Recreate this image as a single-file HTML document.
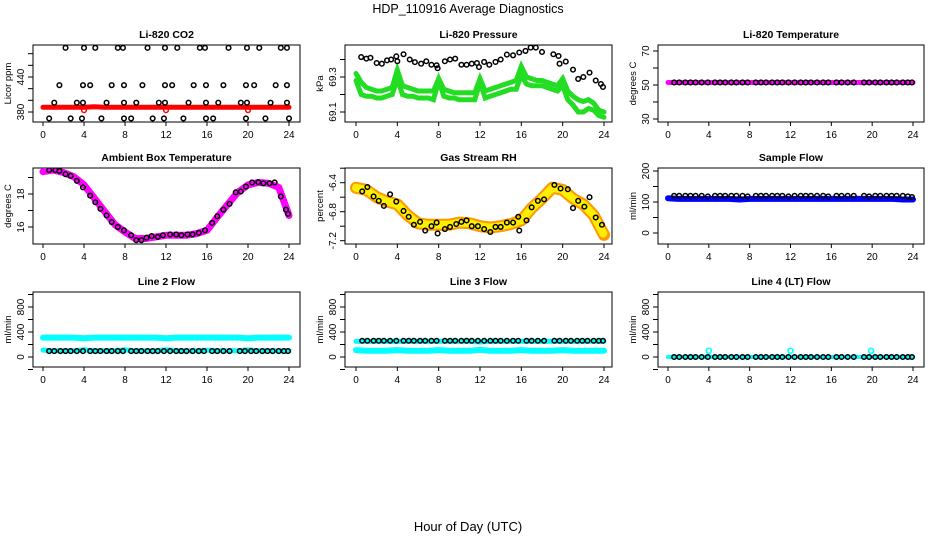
<!DOCTYPE html>
<html><head><meta charset="utf-8"><style>
html,body{margin:0;padding:0;background:#fff;}
svg{display:block;font-family:"Liberation Sans",sans-serif;}
</style></head><body>
<svg id="chart" width="936" height="540" viewBox="0 0 936 540">
<text x="468" y="13" text-anchor="middle" font-size="12.5">HDP_110916  Average Diagnostics</text>
<text x="468" y="531" text-anchor="middle" font-size="13">Hour of Day (UTC)</text>
</svg>
<script>
// ---- data ----
const xTicks = [0,4,8,12,16,20,24];
const blackHours = [0.6,1.1,1.7,2.2,2.7,3.3,3.9,4.6,5.1,5.6,6.2,6.7,7.3,7.8,8.6,9.1,9.6,10.2,10.7,11.2,11.8,12.4,13.0,13.5,14.0,14.6,15.2,15.7,16.5,17.0,17.6,18.2,19.2,19.7,20.3,20.8,21.4,21.9,22.4,23.0,23.5,23.9];
const bandHours = [0,1,2,3,4,5,6,7,8,9,10,11,12,13,14,15,16,17,18,19,20,21,22,23,24];
const halfHours = [0,0.5,1,1.5,2,2.5,3,3.5,4,4.5,5,5.5,6,6.5,7,7.5,8,8.5,9,9.5,10,10.5,11,11.5,12,12.5,13,13.5,14,14.5,15,15.5,16,16.5,17,17.5,18,18.5,19,19.5,20,20.5,21,21.5,22,22.5,23,23.5,24];

// CO2
const co2Hours = [2.2,4.0,5.1,7.3,7.8,10.2,11.9,13.1,15.3,15.8,18.1,19.9,21.1,23.2,23.8,
 1.6,3.9,4.6,6.7,7.9,9.7,11.9,12.6,14.7,15.9,17.6,19.8,20.6,22.7,23.8,
 1.1,3.3,3.9,6.2,7.9,9.1,11.3,11.9,14.2,15.9,17.1,19.3,19.9,22.2,23.8,
 0.6,2.7,3.8,5.7,7.9,8.6,10.7,11.8,13.7,15.9,16.6,19.8,21.7,24.0];
const co2Vals = [490,490,490,490,490,490,490,490,490,490,490,490,490,490,490,
 426,426,426,426,426,426,426,426,426,426,426,426,426,426,426,
 396,396,396,396,396,396,396,396,396,396,396,396,396,396,396,
 369,369,369,369,369,369,369,369,369,369,369,369,369,369];
const co2Red = [388,388,388,388,388,389,388,388,388,388,388,388,388,388,388,388,388,388,388,388,388,388,388,388,388];

// Pressure
const presHours = [0.5,1.0,1.4,2.0,2.5,3.0,3.4,3.9,4.0,4.6,5.2,5.7,6.3,6.8,7.3,7.8,7.9,8.6,9.1,9.6,10.2,10.7,11.2,11.7,11.9,12.4,12.9,13.5,14.0,14.6,15.2,15.8,16.4,16.9,17.4,18.0,19.1,19.6,19.7,20.3,21.0,21.5,22.0,22.6,23.2,23.7,23.9];
const presBlack = [69.414,69.405,69.41,69.38,69.376,69.395,69.4,69.418,69.39,69.43,69.4,69.385,69.376,69.39,69.37,69.367,69.35,69.39,69.4,69.405,69.37,69.37,69.376,69.38,69.357,69.386,69.37,69.386,69.4,69.428,69.424,69.44,69.449,69.468,69.468,69.443,69.43,69.42,69.376,69.388,69.342,69.289,69.3,69.325,69.28,69.26,69.243];
const presGreenA = [69.32,69.27,69.24,69.23,69.22,69.22,69.23,69.24,69.34,69.25,69.24,69.23,69.22,69.22,69.22,69.22,69.29,69.23,69.22,69.21,69.21,69.21,69.21,69.21,69.29,69.22,69.23,69.24,69.25,69.26,69.27,69.28,69.36,69.3,69.29,69.28,69.28,69.27,69.26,69.25,69.29,69.22,69.19,69.17,69.16,69.17,69.15,69.11,69.1];
const presGreenB = [69.28,69.2,69.19,69.19,69.18,69.18,69.19,69.2,69.29,69.2,69.19,69.19,69.18,69.18,69.18,69.17,69.28,69.19,69.18,69.18,69.17,69.17,69.17,69.17,69.27,69.18,69.19,69.2,69.21,69.22,69.23,69.23,69.31,69.26,69.25,69.25,69.25,69.24,69.23,69.22,69.25,69.17,69.14,69.1,69.1,69.12,69.11,69.08,69.07];

// Li-820 temperature
const tempBlack = [51.5,51.5,51.5,51.5,51.5,51.5,51.5,51.5,51.5,51.5,51.5,51.5,51.5,51.5,51.5,51.5,51.5,51.5,51.5,51.5,51.5,51.5,51.5,51.5,51.5,51.5,51.5,51.5,51.5,51.5,51.5,51.5,51.5,51.5,51.5,51.5,51.5,51.5,51.5,51.5,51.5,51.5];
const tempBand = [51.5,51.5,51.5,51.5,51.5,51.5,51.5,51.5,51.5,51.5,51.5,51.5,51.5,51.5,51.5,51.5,51.5,51.5,51.5,51.5,51.5,51.5,51.5,51.5,51.5];

// Ambient box temperature
const ambHours = [0.6,1.2,1.6,2.2,2.7,3.3,3.9,4.6,5.1,5.6,6.2,6.7,7.3,7.9,8.6,9.1,9.6,10.1,10.6,11.2,11.7,12.4,13.0,13.5,14.1,14.6,15.2,15.8,16.5,17.0,17.6,18.2,18.8,19.3,19.8,20.4,21.0,21.5,22.1,22.6,23.2,23.7,23.9];
const ambBlack = [19.45,19.45,19.4,19.2,19.1,18.8,18.4,17.9,17.5,17.1,16.7,16.3,16.0,15.8,15.5,15.2,15.2,15.35,15.45,15.4,15.5,15.55,15.55,15.5,15.55,15.55,15.65,15.8,16.25,16.65,17.05,17.4,18.1,18.15,18.45,18.7,18.72,18.65,18.65,18.7,17.85,17.05,16.8];
const ambBand = [19.35,19.45,19.3,19.05,18.55,17.75,16.95,16.15,15.7,15.3,15.3,15.4,15.5,15.5,15.5,15.6,15.8,16.6,17.35,18.1,18.55,18.7,18.65,18.4,16.7];

// Gas stream RH
const rhHours = [0.6,1.1,1.7,2.2,2.7,3.3,3.9,4.6,5.1,5.6,6.2,6.7,7.3,7.8,7.9,8.6,9.1,9.7,10.2,10.7,11.2,11.8,12.4,13.0,13.5,14.0,14.6,15.2,15.7,15.8,16.5,17.0,17.6,18.2,19.2,19.8,20.5,21.0,21.5,22.1,22.6,23.2,23.8];
const rhBlack = [-6.52,-6.46,-6.59,-6.65,-6.72,-6.56,-6.66,-6.79,-6.87,-6.98,-6.94,-7.06,-7.0,-6.95,-7.1,-7.04,-7.01,-6.97,-6.94,-6.92,-7.0,-7.0,-7.04,-7.08,-7.01,-7.01,-6.95,-6.95,-6.87,-7.06,-6.92,-6.74,-6.65,-6.63,-6.43,-6.48,-6.49,-6.75,-6.65,-6.73,-6.6,-6.88,-6.98];
const rhBand = [-6.47,-6.5,-6.6,-6.66,-6.7,-6.85,-6.96,-6.98,-6.98,-6.98,-6.95,-6.96,-7.0,-7.02,-7.0,-6.97,-6.92,-6.75,-6.62,-6.47,-6.5,-6.62,-6.7,-6.85,-7.12];

// Flows
const sampleBlack = [120,120,120,120,120,120,118,120,120,120,120,120,120,118,120,120,120,120,120,120,118,120,120,120,120,120,120,118,120,120,120,120,120,118,120,120,120,120,120,120,118,116];
const sampleBand = [112,110,110,110,110,110,110,108,110,110,110,110,110,110,110,110,110,110,110,110,110,110,110,108,108];
const line2Black = [95,95,95,95,95,95,95,95,95,95,95,95,95,95,95,95,95,95,95,95,95,95,95,95,95,95,95,95,95,95,95,95,95,95,95,95,95,95,95,95,95,95];
const line2Upper = [310,310,310,310,300,310,310,310,310,310,310,310,300,310,310,310,310,310,310,310,300,310,310,310,310];
const line2Lower = [110,100,100,100,115,100,100,100,115,100,100,100,115,100,100,100,110,100,100,100,115,100,100,100,100];
const line3Black = [260,260,260,260,260,260,260,260,260,260,260,260,260,260,260,260,260,260,260,260,260,260,260,260,260,260,260,260,260,260,260,260,260,260,260,260,260,260,260,260,260,260];
const line3Upper = [250,250,250,250,250,250,250,250,250,250,250,250,240,250,250,250,250,250,250,250,250,250,250,250,250];
const line3Lower = [110,100,100,100,110,100,100,100,110,100,100,100,115,100,100,100,110,100,100,100,110,100,100,100,100];
const line4Black = [0,0,0,0,0,0,0,0,0,0,0,0,0,0,0,0,0,0,0,0,0,0,0,0,0,0,0,0,0,0,0,0,0,0,0,0,0,0,0,0,0,0];
const line4Band = [0,0,0,0,0,0,0,0,0,0,0,0,0,0,0,0,0,0,0,0,0,0,0,0,0];
const line4SpikeHours = [4.0,12.0,19.9];
const line4Spikes = [100,100,100];

// ---- layout ----
const NS = "http://www.w3.org/2000/svg";
const svg = document.getElementById('chart');
const cols = [{l:33,r:300,x0:43,x1:289},{l:345,r:612,x0:356,x1:604},{l:658,r:924,x0:668,x1:913}];
const rows = [{t:45,b:122},{t:168,b:244},{t:292,b:367}];

function el(tag, attrs, parent){
  const e = document.createElementNS(NS, tag);
  for (const k in attrs) e.setAttribute(k, attrs[k]);
  (parent||svg).appendChild(e);
  return e;
}

function makePanel(ci, ri, title, ylabel, ya, yb, yticks, ylabels, name){
  const c = cols[ci], r = rows[ri];
  const g = el('g', {});
  
  
  const xs = h => c.x0 + (h/24)*(c.x1-c.x0);
  const ys = v => ya.p + (v-ya.v)*(yb.p-ya.p)/(yb.v-ya.v);
  const t = el('text', {x:(c.l+c.r)/2, y:r.t-7, 'text-anchor':'middle', 'font-size':'10.5', 'font-weight':'bold'}, g);
  t.textContent = title;
  
  
  const frame = el('rect', {x:c.l, y:r.t, width:c.r-c.l, height:r.b-r.t, fill:'none', stroke:'#000', 'stroke-width':'1'}, g);
  
  
  const xa = el('g', {}, g);
  
  
  el('line', {x1:xs(0), x2:xs(24), y1:r.b, y2:r.b, stroke:'#000'}, xa);
  xTicks.forEach(v=>{
    el('line', {x1:xs(v), x2:xs(v), y1:r.b, y2:r.b+4, stroke:'#000'}, xa);
    const tl = el('text', {x:xs(v), y:r.b+16, 'text-anchor':'middle', 'font-size':'10'}, xa);
    tl.textContent = v;
    
    
  });
  const yax = el('g', {}, g);
  
  
  yticks.forEach(v=>{
    el('line', {x1:c.l-5, x2:c.l, y1:ys(v), y2:ys(v), stroke:'#000'}, yax);
  });
  ylabels.forEach(v=>{
    const yl = el('text', {x:c.l-9, y:ys(v), 'text-anchor':'middle', 'font-size':'10', transform:`rotate(-90 ${c.l-9} ${ys(v)})`}, yax);
    yl.textContent = v;
    
    
  });
  const lab = el('text', {x:c.l-22, y:(r.t+r.b)/2, 'text-anchor':'middle', 'font-size':'9.5', transform:`rotate(-90 ${c.l-22} ${(r.t+r.b)/2})`}, g);
  lab.textContent = ylabel;
  
  
  const clip = 'clip' + ci + ri;
  const cp = el('clipPath', {id:clip}, g);
  el('rect', {x:c.l, y:r.t, width:c.r-c.l, height:r.b-r.t}, cp);
  const plot = el('g', {'clip-path':`url(#${clip})`}, g);
  return {xs, ys, plot, name};
}

function band(p, hours, vals, color, width, nm){
  const pts = hours.map((h,i)=>p.xs(h).toFixed(1)+','+p.ys(vals[i]).toFixed(1)).join(' ');
  const pl = el('polyline', {points:pts, fill:'none', stroke:color, 'stroke-width':width, 'stroke-linejoin':'round', 'stroke-linecap':'round'}, p.plot);
  
  
  return pl;
}
function dots(p, hours, vals, color, rad, sw, nm){
  const g = el('g', {}, p.plot);
  
  
  hours.forEach((h,i)=>{
    const c = el('circle', {cx:p.xs(h), cy:p.ys(vals[i]), r:rad, fill:'none', stroke:color, 'stroke-width':sw}, g);
    
    
  });
}

let p = makePanel(0,0,'Li-820 CO2','Licor ppm',{v:380,p:112},{v:440,p:77},[380,400,420,440,460,480],[380,440],'co2');
band(p, bandHours, co2Red, '#ff0000', 5, 'co2-red-series');
dots(p, [4,12,20], [383,383,383], '#ff0000', 2.3, 1.5, 'co2-red-outliers');
dots(p, co2Hours, co2Vals, '#000', 2.3, 1.5, 'co2-black-series');

p = makePanel(1,0,'Li-820 Pressure','kPa',{v:69.3,p:77},{v:69.1,p:112},[69.1,69.2,69.3,69.4],[69.1,69.3],'pressure');
const ga = band(p, halfHours, presGreenA, '#22dd22', 5, 'pressure-green-upper');
ga.setAttribute('stroke-linejoin','miter');
const gb = band(p, halfHours, presGreenB, '#22dd22', 5, 'pressure-green-lower');
gb.setAttribute('stroke-linejoin','miter');
dots(p, presHours, presBlack, '#000', 2.3, 1.5, 'pressure-black-series');

p = makePanel(2,0,'Li-820 Temperature','degrees C',{v:50,p:85},{v:70,p:51},[30,40,50,60,70],[30,50,70],'li820-temp');
band(p, bandHours, tempBand, '#ff00ff', 5, 'temp-magenta-series');
dots(p, blackHours, tempBlack, '#000', 2.3, 1.5, 'temp-black-series');

p = makePanel(0,1,'Ambient Box Temperature','degrees C',{v:18,p:194},{v:16,p:227},[16,17,18,19],[16,18],'ambient');
band(p, bandHours, ambBand, '#ff00ff', 7, 'ambient-magenta-series');
dots(p, ambHours, ambBlack, '#000', 2.3, 1.5, 'ambient-black-series');

p = makePanel(1,1,'Gas Stream RH','percent',{v:-6.4,p:182.7},{v:-7.2,p:240.7},[-6.2,-6.4,-6.6,-6.8,-7.0,-7.2],[-6.4,-6.8,-7.2],'rh');
band(p, bandHours, rhBand, '#ff9900', 12, 'rh-orange-series');
const yb = band(p, bandHours, rhBand, '#ffee00', 8, 'rh-yellow-texture');
yb.setAttribute('stroke-dasharray','1 2');
dots(p, rhHours, rhBlack, '#000', 2.3, 1.5, 'rh-black-series');

p = makePanel(2,1,'Sample Flow','ml/min',{v:100,p:202},{v:0,p:233},[0,50,100,150,200],[0,100,200],'sample-flow');
band(p, bandHours, sampleBand, '#0000ff', 6, 'sample-blue-series');
dots(p, blackHours, sampleBlack, '#000', 2.3, 1.5, 'sample-black-series');

p = makePanel(0,2,'Line 2 Flow','ml/min',{v:0,p:357},{v:400,p:332},[-200,0,200,400,600,800,1000],[0,400,800],'line2');
band(p, bandHours, line2Upper, '#00ffff', 6, 'line2-cyan-upper');
band(p, bandHours, line2Lower, '#00ffff', 5, 'line2-cyan-lower');
dots(p, blackHours, line2Black, '#000', 2.3, 1.5, 'line2-black-series');

p = makePanel(1,2,'Line 3 Flow','ml/min',{v:0,p:357},{v:400,p:332},[-200,0,200,400,600,800,1000],[0,400,800],'line3');
band(p, bandHours, line3Upper, '#00ffff', 5, 'line3-cyan-upper');
band(p, bandHours, line3Lower, '#00ffff', 6, 'line3-cyan-lower');
dots(p, blackHours, line3Black, '#000', 2.3, 1.5, 'line3-black-series');

p = makePanel(2,2,'Line 4 (LT) Flow','ml/min',{v:0,p:357},{v:400,p:332},[-200,0,200,400,600,800,1000],[0,400,800],'line4');
band(p, bandHours, line4Band, '#00ffff', 4, 'line4-cyan-series');
dots(p, line4SpikeHours, line4Spikes, '#00ffff', 2.5, 1.6, 'line4-cyan-spikes');
dots(p, blackHours, line4Black, '#000', 2.3, 1.5, 'line4-black-series');
</script>
</body></html>
